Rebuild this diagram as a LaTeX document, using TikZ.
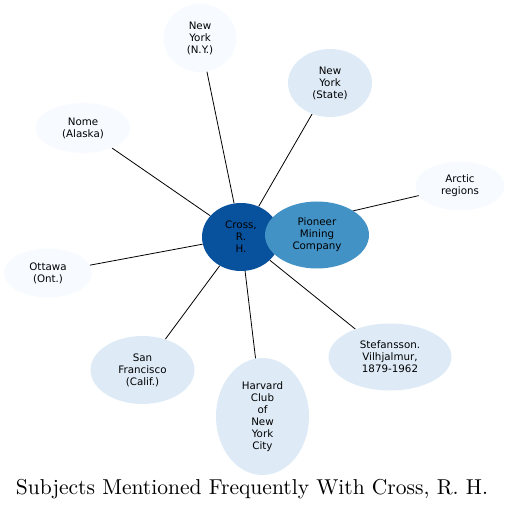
\documentclass[tikz,border=0pt]{standalone}
\usepackage{fontspec}
\newfontfamily\nodefont{DejaVu Sans}
\usetikzlibrary{shapes.geometric}
\pgfdeclarelayer{background}
\pgfsetlayers{background,main}
\definecolor{c0}{HTML}{F7FBFF}
\definecolor{c1}{HTML}{DEEBF7}
\definecolor{c2}{HTML}{4292C6}
\definecolor{c3}{HTML}{08519C}
\tikzset{
  subj/.style={ellipse, inner sep=0pt, align=center, text=black,
    font=\nodefont\fontsize{10.3}{12}\selectfont},
  edge/.style={draw=black, line width=0.8pt}
}
\begin{document}
\begin{tikzpicture}[x=1pt,y=1pt]
\useasboundingbox (0,0) rectangle (511,511);
\node[subj, fill=c3, minimum width=78pt, minimum height=68pt] (cross) at (241,274) {Cross,\\R.\\H.};
\node[subj, fill=c2, minimum width=104pt, minimum height=67pt] (pioneer) at (317,276) {Pioneer\\Mining\\Company};
\node[subj, fill=c0, minimum width=73pt, minimum height=68pt] (nyny) at (200,473) {New\\York\\(N.Y.)};
\node[subj, fill=c1, minimum width=84pt, minimum height=68pt] (nys) at (330,428) {New\\York\\(State)};
\node[subj, fill=c0, minimum width=95pt, minimum height=50pt] (nome) at (83,383) {Nome\\(Alaska)};
\node[subj, fill=c0, minimum width=89pt, minimum height=49pt] (arctic) at (460,325) {Arctic\\regions};
\node[subj, fill=c0, minimum width=88pt, minimum height=49pt] (ottawa) at (48,238) {Ottawa\\(Ont.)};
\node[subj, fill=c1, minimum width=104pt, minimum height=68pt] (sf) at (142.5,141) {San\\Francisco\\(Calif.)};
\node[subj, fill=c1, minimum width=93pt, minimum height=117pt] (harvard) at (262.5,94.5) {Harvard\\Club\\of\\New\\York\\City};
\node[subj, fill=c1, minimum width=123pt, minimum height=67pt] (stef) at (390,154) {Stefansson.\\Vilhjalmur,\\1879-1962};
\node (title) at (252,22) {\resizebox{472pt}{!}{Subjects Mentioned Frequently With Cross, R. H.}};
\begin{pgfonlayer}{background}
\foreach \t in {pioneer,nyny,nys,nome,arctic,ottawa,sf,harvard,stef}
  \draw[edge] (cross) -- (\t);
\end{pgfonlayer}
\end{tikzpicture}
\end{document}
